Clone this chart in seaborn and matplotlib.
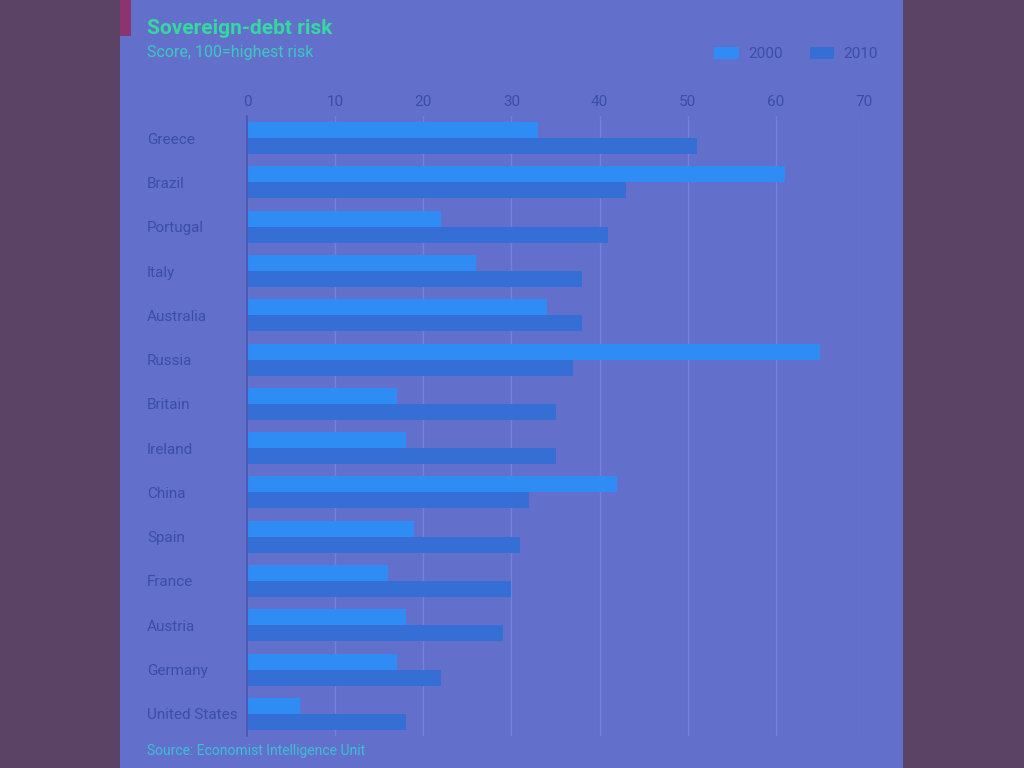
import matplotlib
matplotlib.use("Agg")
import matplotlib.pyplot as plt
import seaborn as sns
import pandas as pd
from matplotlib.patches import Rectangle

# Data
countries = ['Greece', 'Brazil', 'Portugal', 'Italy', 'Australia', 'Russia', 'Britain',
             'Ireland', 'China', 'Spain', 'France', 'Austria', 'Germany', 'United States']
score_2000 = [33, 61, 22, 26, 34, 65, 17, 18, 42, 19, 16, 18, 17, 6]
score_2010 = [51, 43, 41, 38, 38, 37, 35, 35, 32, 31, 30, 29, 22, 18]
years = ['2000', '2010']

df = pd.DataFrame({
    'Country': countries * 2,
    'Year': [years[0]] * len(countries) + [years[1]] * len(countries),
    'Score': score_2000 + score_2010,
})

sns.set_theme(style="white")
plt.rcParams['font.family'] = ['Roboto', 'DejaVu Sans']

bg = '#5a4364'
panel = '#6270cc'
text_col = '#3a4ea8'
bar_cols = {'2000': '#2f8cf4', '2010': '#356fd6'}

fig = plt.figure(figsize=(10.24, 7.68), dpi=100, facecolor=bg)
fig.patches.append(Rectangle((120 / 1024, 0), 783 / 1024, 1, transform=fig.transFigure,
                             facecolor=panel, edgecolor='none', zorder=-2))
fig.patches.append(Rectangle((120 / 1024, 1 - 36 / 768), 11 / 1024, 36 / 768,
                             transform=fig.transFigure, facecolor='#8a3470',
                             edgecolor='none', zorder=-1))

ax = fig.add_axes([247 / 1024, 32 / 768, 617 / 1024, 620 / 768])
ax.set_facecolor('none')
sns.barplot(data=df, y='Country', x='Score', hue='Year', palette=bar_cols,
            order=countries, width=0.72, dodge=True, ax=ax, saturation=1,
            edgecolor='none', legend=True)

ax.set_xlim(0, 70)
ax.set_ylim(13.5, -0.5)
ax.set_xticks(range(0, 71, 10))
ax.xaxis.tick_top()
ax.tick_params(axis='x', length=0, pad=5, labelsize=11, colors=text_col)
ax.tick_params(axis='y', length=0, pad=72, labelsize=11, colors=text_col)
for lab in ax.get_yticklabels():
    lab.set_horizontalalignment('left')
ax.set_xlabel('')
ax.set_ylabel('')
ax.grid(axis='x', color='#7381dc', linewidth=1)
ax.set_axisbelow(True)
for s in ['top', 'right', 'bottom']:
    ax.spines[s].set_visible(False)
ax.spines['left'].set_color('#4a5cb8')
ax.spines['left'].set_linewidth(1.5)

ax.legend(ncol=2, loc='center right', bbox_to_anchor=((878 - 247) / 617, (736 - 54) / 620),
          bbox_transform=ax.transAxes, frameon=False, fontsize=11,
          handlelength=1.6, handleheight=0.9, handletextpad=0.6, columnspacing=1.8,
          labelcolor=text_col, borderpad=0, borderaxespad=0)

fig.text(147 / 1024, 1 - 28 / 768, 'Sovereign-debt risk', fontsize=15, fontweight='bold',
         color='#35d89e', va='center', ha='left')
fig.text(147 / 1024, 1 - 53 / 768, 'Score, 100=highest risk', fontsize=11.5,
         color='#3cc8c0', va='center', ha='left')
fig.text(147 / 1024, 1 - 751 / 768, 'Source: Economist Intelligence Unit', fontsize=10,
         color='#3cc0d0', va='center', ha='left')

fig.savefig('out.png', dpi=100, facecolor=bg)
